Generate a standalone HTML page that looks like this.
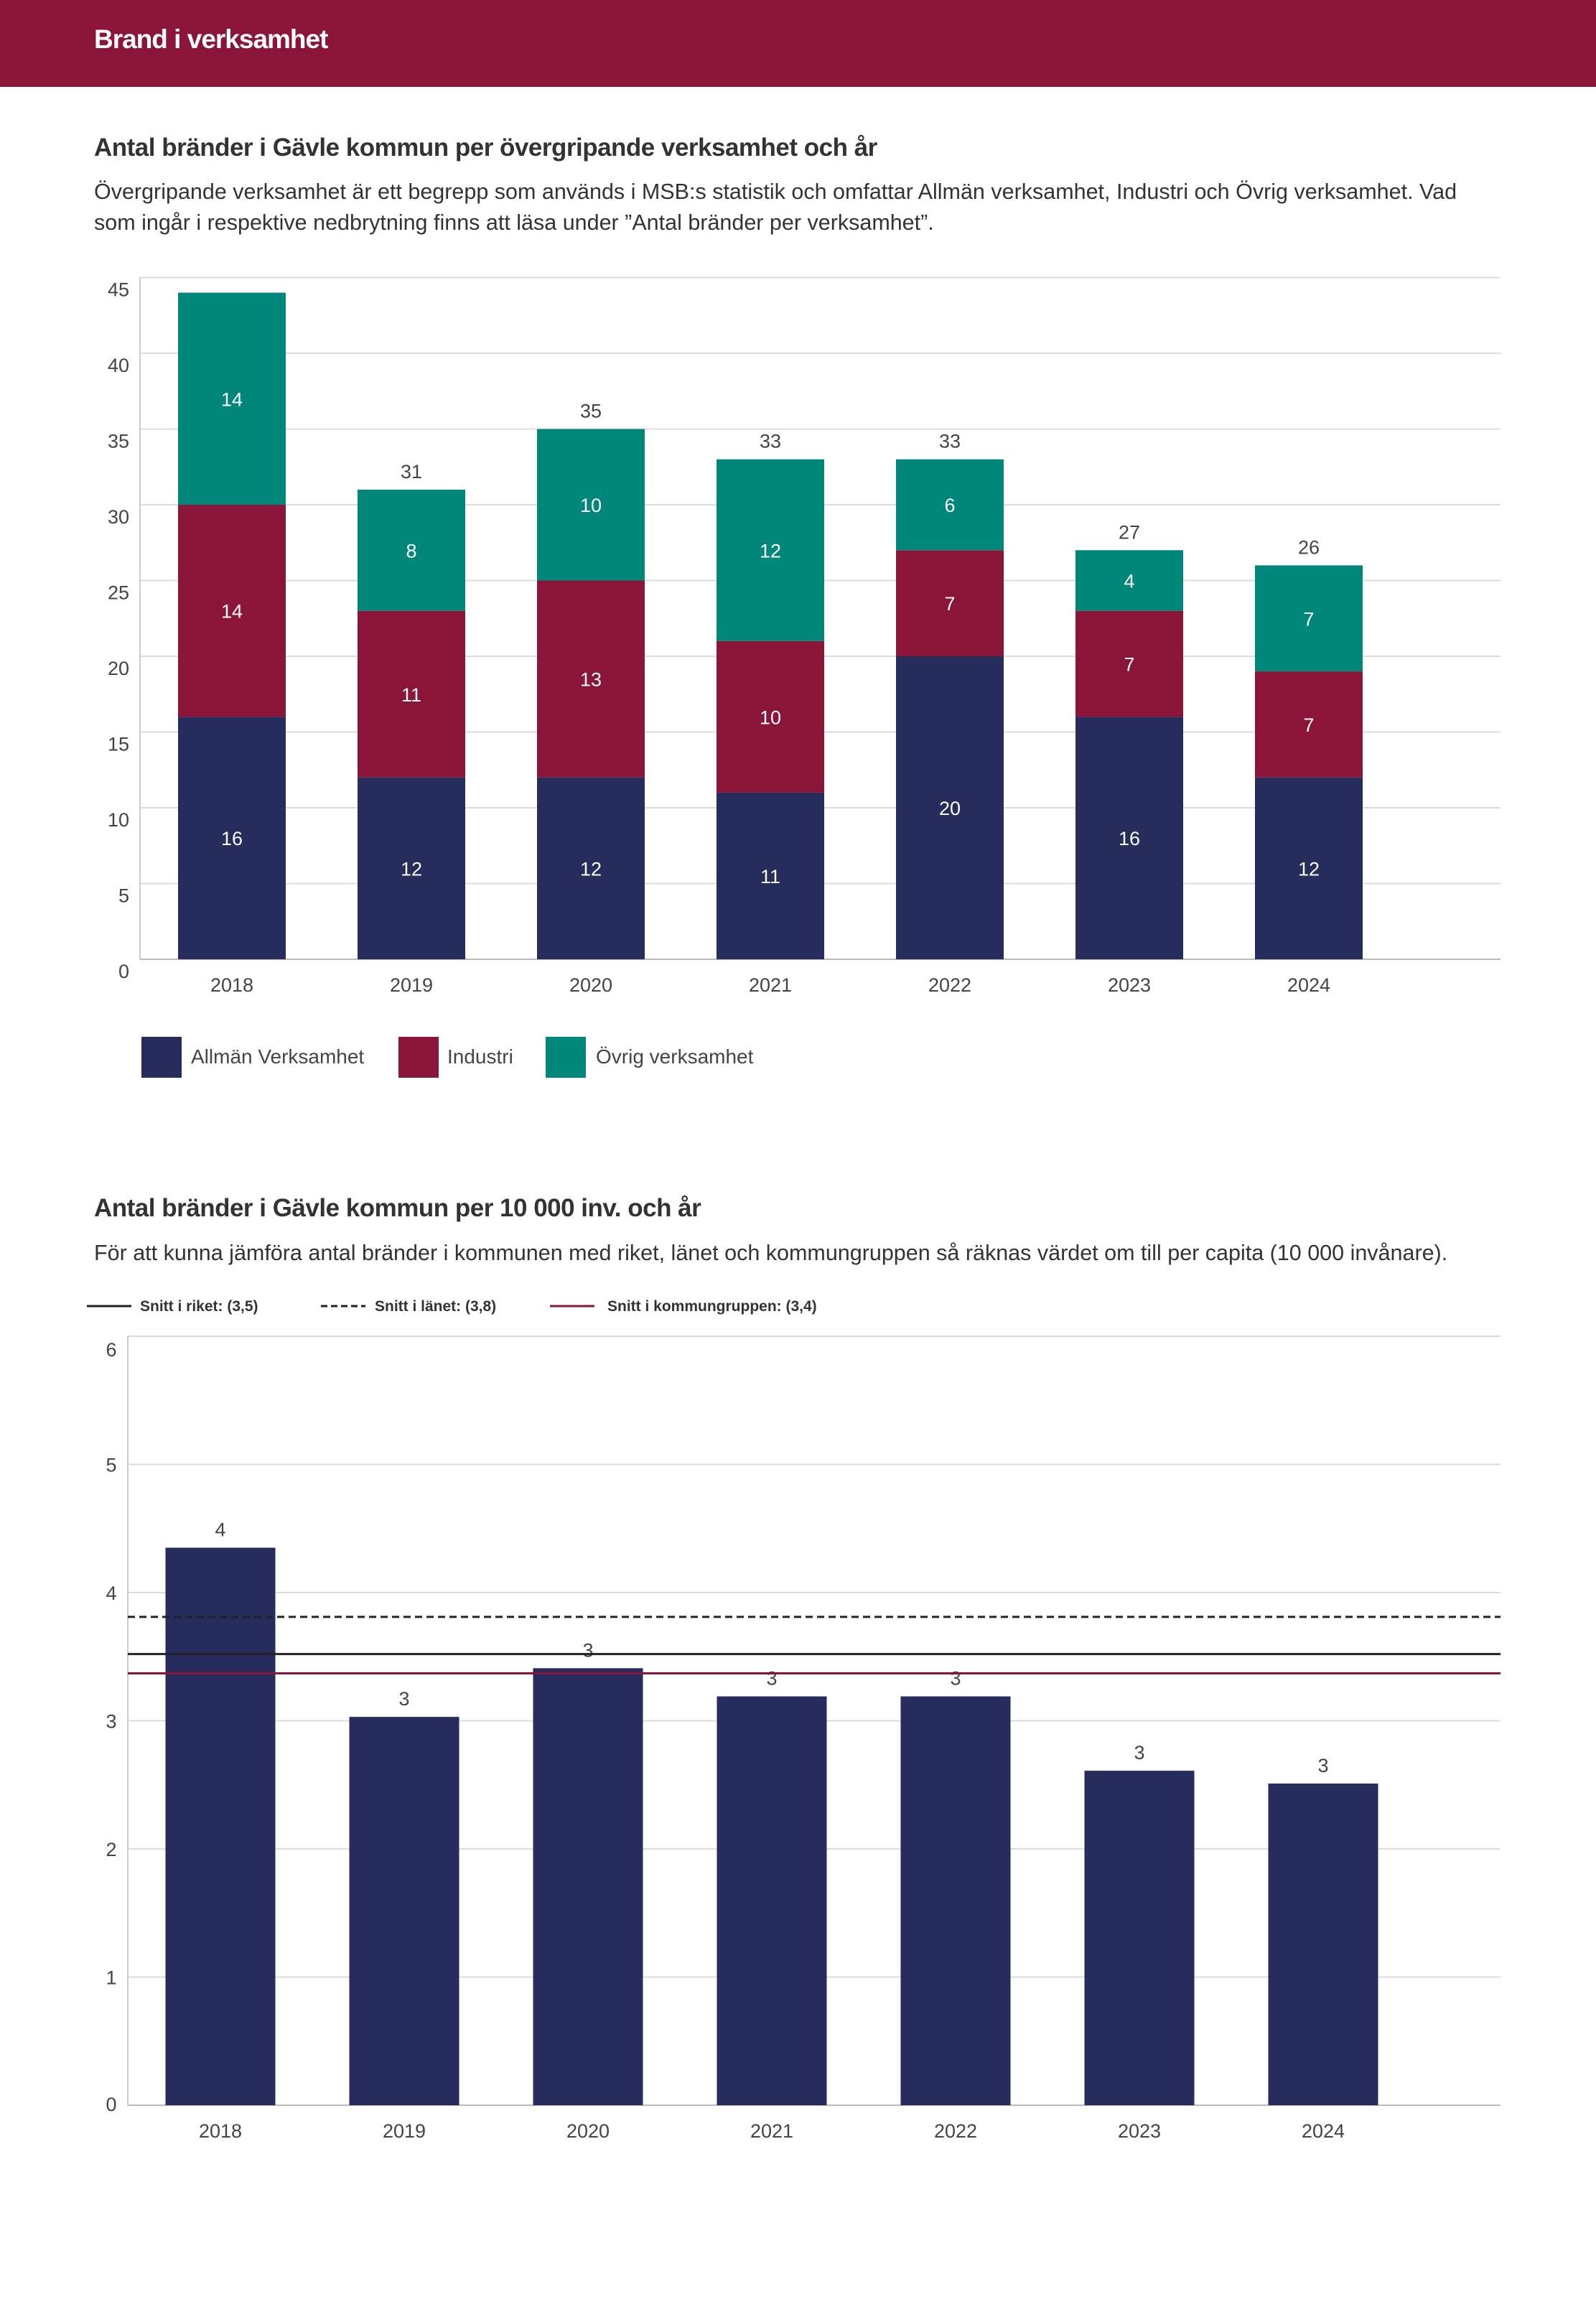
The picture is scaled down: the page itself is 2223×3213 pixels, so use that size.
<!DOCTYPE html>
<html><head><meta charset="utf-8">
<style>
html,body{margin:0;padding:0;background:#fff;}
body{width:2223px;height:3213px;position:relative;overflow:hidden;font-family:"Liberation Sans",sans-serif;color:#333;}
.hdr{position:absolute;left:0;top:0;width:2223px;height:121px;background:#8b1538;}
.hdr span{position:absolute;left:131px;top:34px;font-size:37px;font-weight:bold;color:#fff;letter-spacing:-1px;}
.t{position:absolute;left:131px;font-size:35px;font-weight:bold;color:#333;letter-spacing:-0.5px;}
.d{position:absolute;left:131px;font-size:30.5px;color:#333;line-height:43px;width:2050px;}
svg{position:absolute;left:0;}
</style></head><body>
<div class="hdr"><span>Brand i verksamhet</span></div>
<div class="t" style="top:186px">Antal bränder i Gävle kommun per övergripande verksamhet och år</div>
<div class="d" style="top:246px">Övergripande verksamhet är ett begrepp som används i MSB:s statistik och omfattar Allmän verksamhet, Industri och Övrig verksamhet. Vad<br>som ingår i respektive nedbrytning finns att läsa under ”Antal bränder per verksamhet”.</div>
<svg id="c1" width="2223" height="1560" style="top:0"></svg>
<div class="t" style="top:1663px">Antal bränder i Gävle kommun per 10 000 inv. och år</div>
<div class="d" style="top:1724px">För att kunna jämföra antal bränder i kommunen med riket, länet och kommungruppen så räknas värdet om till per capita (10 000 invånare).</div>
<svg id="c2" width="2223" height="3213" style="top:0"></svg>
<script>
const years = ["2018","2019","2020","2021","2022","2023","2024"];
const allman = [16,12,12,11,20,16,12];
const industri = [14,11,13,10,7,7,7];
const ovrig = [14,8,10,12,6,4,7];
const yTicks1 = [0,5,10,15,20,25,30,35,40,45];
const perCapita = [4.35,3.03,3.41,3.19,3.19,2.61,2.51];
const perCapitaLabels = ["4","3","3","3","3","3","3"];
const yTicks2 = [0,1,2,3,4,5,6];
const refNames = ["Snitt i riket: (3,5)","Snitt i länet: (3,8)","Snitt i kommungruppen: (3,4)"];
const refValues = [3.52,3.81,3.37];

const NS="http://www.w3.org/2000/svg";
function mk(svg,tag,attrs,text){const e=document.createElementNS(NS,tag);for(const k in attrs)e.setAttribute(k,attrs[k]);if(text!==undefined)e.textContent=text;svg.appendChild(e);return e;}
const F='"Liberation Sans",sans-serif';

// Chart 1
(function(){
const s=document.getElementById('c1');
const left=195,right=2090,y0=1336,pu=21.1;
const y=v=>y0-v*pu;
const x=i=>323+i*250;
const bw=150;
yTicks1.forEach(t=>{
  const l=mk(s,'line',{x1:left,x2:right,y1:y(t),y2:y(t),stroke:t===0?'#bbb':'#dcdcdc','stroke-width':2});
  
  
  const tx=mk(s,'text',{x:180,y:y(t)+26,'text-anchor':'end','font-size':27,fill:'#444','font-family':F},t);
  
  
});
mk(s,'line',{x1:left,x2:left,y1:y(45),y2:y0,stroke:'#ccc','stroke-width':2});
const series=[[allman,'#262c5b','allman'],[industri,'#8b1538','industri'],[ovrig,'#00877a','ovrig']];
years.forEach((yr,i)=>{
  let base=0;
  series.forEach(([arr,col,nm])=>{
    const v=arr[i];
    const r=mk(s,'rect',{x:x(i)-bw/2,y:y(base+v),width:bw,height:v*pu,fill:col});
    
    
    const t=mk(s,'text',{x:x(i),y:y(base+v/2)+10,'text-anchor':'middle','font-size':27,fill:'#fff','font-family':F},v);
    
    
    base+=v;
  });
  if(i>0){
    const t=mk(s,'text',{x:x(i),y:y(base)-16,'text-anchor':'middle','font-size':27,fill:'#444','font-family':F},base);
    
    
  }
  const xl=mk(s,'text',{x:x(i),y:1381,'text-anchor':'middle','font-size':27,fill:'#444','font-family':F},yr);
  
  
});
const leg=[['Allmän Verksamhet','#262c5b',197,266],['Industri','#8b1538',555,623],['Övrig verksamhet','#00877a',760,830]];
leg.forEach(([n,c,sx,tx])=>{
  const g=mk(s,'g',{});
  
  
  mk(g,'rect',{x:sx,y:1444,width:56,height:57,fill:c});
  mk(g,'text',{x:tx,y:1481,'font-size':28,fill:'#444','font-family':F},n);
});
})();

// Chart 2
(function(){
const s=document.getElementById('c2');
const left=178,right=2090,y0=2932,pu=178.5;
const y=v=>y0-v*pu;
const x=i=>307+i*256;
const bw=153;
yTicks2.forEach(t=>{
  const l=mk(s,'line',{x1:left,x2:right,y1:y(t),y2:y(t),stroke:t===0?'#bbb':'#dcdcdc','stroke-width':2});
  
  
  const tx=mk(s,'text',{x:155,y:y(t)+(t===0?8:t===6?28:10),'text-anchor':'middle','font-size':27,fill:'#444','font-family':F},t);
  
  
});
mk(s,'line',{x1:left,x2:left,y1:y(6),y2:y0,stroke:'#ccc','stroke-width':2});
years.forEach((yr,i)=>{
  const v=perCapita[i];
  const r=mk(s,'rect',{x:x(i)-bw/2,y:y(v),width:bw,height:v*pu,fill:'#262c5b'});
  
  
  const t=mk(s,'text',{x:x(i),y:y(v)-16,'text-anchor':'middle','font-size':27,fill:'#444','font-family':F},perCapitaLabels[i]);
  
  
  const xl=mk(s,'text',{x:x(i),y:2977,'text-anchor':'middle','font-size':27,fill:'#444','font-family':F},yr);
  
  
});
const styles=[['#222',''],['#222','10,6'],['#8b1538','']];
refValues.forEach((v,k)=>{
  const a={x1:left,x2:right,y1:y(v),y2:y(v),stroke:styles[k][0],'stroke-width':3};
  if(styles[k][1])a['stroke-dasharray']=styles[k][1];
  const l=mk(s,'line',a);
  
  
});
const legX=[[121,195],[447,522],[766,846]];
refNames.forEach((n,k)=>{
  const g=mk(s,'g',{});
  
  
  const a={x1:legX[k][0],x2:legX[k][0]+62,y1:1819,y2:1819,stroke:styles[k][0],'stroke-width':3};
  if(styles[k][1])a['stroke-dasharray']='9,5';
  mk(g,'line',a);
  mk(g,'text',{x:legX[k][1],y:1826,'font-size':21,'font-weight':'bold',fill:'#333','font-family':F},n);
});
})();
</script>
</body></html>
